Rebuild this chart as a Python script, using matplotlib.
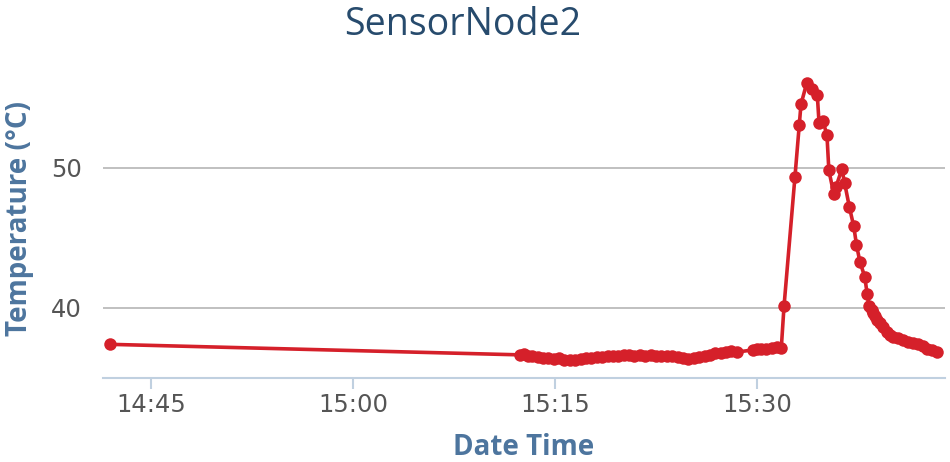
import numpy as np
import matplotlib.pyplot as plt
import matplotlib.dates as mdates
from datetime import datetime, timedelta

# minutes after 14:00 and temperature readings
minutes = [41.95,
           72.4, 72.7, 73.0, 73.3, 73.7, 74.1, 74.5, 74.9, 75.3, 75.7,
           76.1, 76.5, 76.9, 77.3, 77.7, 78.1, 78.5, 78.9, 79.3, 79.7,
           80.1, 80.5, 80.9, 81.3, 81.7, 82.1, 82.5, 82.9, 83.3, 83.7,
           84.1, 84.5, 84.9, 85.3, 85.7, 86.1, 86.5, 86.9, 87.3, 87.7,
           88.1, 88.5, 89.7, 90.0, 90.3, 90.7, 91.1, 91.5, 91.8,
           92.0, 92.81, 93.13, 93.26, 93.68, 94.05, 94.47, 94.6, 94.9, 95.19,
           95.33, 95.7, 95.85, 96.3, 96.5, 96.85, 97.18, 97.38, 97.63, 98.0,
           98.17, 98.32, 98.5, 98.6, 98.75, 98.9, 99.12, 99.35, 99.62, 99.85,
           100.1, 100.45, 100.85, 101.2, 101.6, 101.95, 102.33, 102.65, 102.96, 103.33]
temps = [37.4,
         36.65, 36.7, 36.6, 36.55, 36.5, 36.45, 36.4, 36.35, 36.4, 36.3,
         36.25, 36.3, 36.35, 36.4, 36.45, 36.5, 36.5, 36.55, 36.6, 36.6,
         36.65, 36.65, 36.6, 36.65, 36.6, 36.65, 36.6, 36.6, 36.55, 36.55,
         36.5, 36.4, 36.35, 36.4, 36.5, 36.55, 36.65, 36.75, 36.8, 36.85,
         36.9, 36.85, 37.0, 37.05, 37.1, 37.1, 37.15, 37.2, 37.15,
         40.1, 49.3, 53.0, 54.5, 56.0, 55.6, 55.2, 53.2, 53.3, 52.3,
         49.8, 48.1, 48.6, 49.9, 48.9, 47.2, 45.8, 44.5, 43.3, 42.2,
         41.0, 40.1, 39.85, 39.6, 39.4, 39.15, 38.9, 38.6, 38.3, 38.1,
         37.95, 37.85, 37.7, 37.6, 37.5, 37.4, 37.25, 37.1, 37.0, 36.85]

tick_minutes = [45, 60, 75, 90]
y_ticks = [40, 50]

base = datetime(2020, 1, 1, 14, 0)
times = [base + timedelta(minutes=m) for m in minutes]

plt.rcParams['font.family'] = ['Open Sans', 'DejaVu Sans']

fig = plt.figure(figsize=(9.5, 4.62), dpi=100)
ax = fig.add_axes([0.1084, 0.1818, 0.8863, 0.656])

ax.plot(times, temps, color='#d5202a', lw=2.6, marker='o', ms=9,
        markeredgewidth=0, zorder=3)

ax.set_xlim(base + timedelta(minutes=41.44), base + timedelta(minutes=103.95))
ax.set_ylim(35, 56.6)

ax.set_xticks([base + timedelta(minutes=m) for m in tick_minutes])
ax.xaxis.set_major_formatter(mdates.DateFormatter('%H:%M'))
ax.set_yticks(y_ticks)

ax.grid(axis='y', color='#c0c0c0', lw=1.4)
for s in ['top', 'right', 'left']:
    ax.spines[s].set_visible(False)
ax.spines['bottom'].set_color('#c0d0e0')
ax.spines['bottom'].set_linewidth(1.5)

ax.tick_params(axis='x', colors='#c0d0e0', length=8, width=1.5, pad=3,
               labelcolor='#555555', labelsize=17.5)
ax.tick_params(axis='y', length=0, pad=15, labelcolor='#555555', labelsize=17.5)
for lab in ax.get_xticklabels() + ax.get_yticklabels():
    lab.set_family('DejaVu Sans')

fig.text(463 / 950, 1 - 25 / 462, 'SensorNode2', fontsize=27, color='#274b6d',
         ha='center', va='center')
ax.set_xlabel('Date Time', fontsize=20, fontweight='bold', color='#4d759e',
              labelpad=11)
fig.text(20 / 950, 1 - 218 / 462, 'Temperature (°C)', fontsize=20,
         fontweight='bold', color='#4d759e', rotation=90,
         ha='center', va='center')

fig.savefig('out.png', dpi=100)
